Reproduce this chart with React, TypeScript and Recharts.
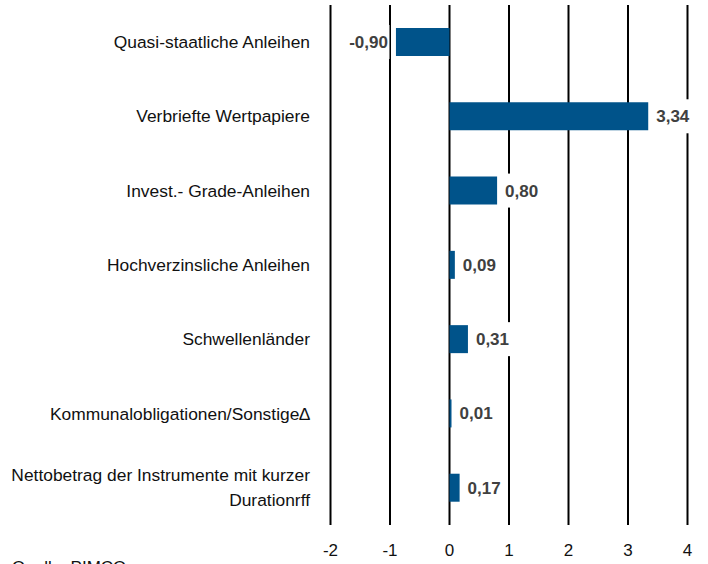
import React from "react";
import { BarChart, Bar, XAxis, YAxis, CartesianGrid, LabelList } from "recharts";

const categories = [
  "Quasi-staatliche Anleihen",
  "Verbriefte Wertpapiere",
  "Invest.- Grade-Anleihen",
  "Hochverzinsliche Anleihen",
  "Schwellenländer",
  "Kommunalobligationen/Sonstige∆",
  "Nettobetrag der Instrumente mit kurzer\nDurationrff",
];
const values = [-0.9, 3.34, 0.8, 0.09, 0.31, 0.01, 0.17];
const xTicks = [-2, -1, 0, 1, 2, 3, 4];
const sourceText = "Quelle: PIMCO";

const data = categories.map((name, i) => ({ name, value: values[i] }));

const FONT = "'Liberation Sans', Arial, sans-serif";
const BAR_COLOR = "#00538A";

const fmt = (v: number) => v.toFixed(2).replace(".", ",");

const charW: Record<string, number> = { "-": 0.333, ",": 0.278 };
const textWidth = (s: string, size: number) =>
  s.split("").reduce((acc, c) => acc + (charW[c] ?? 0.556) * size, 0);

const ValueLabel = (props: any) => {
  const { x, y, width, height, value } = props;
  const left = Math.min(x, x + width);
  const right = Math.max(x, x + width);
  const cy = y + height / 2;
  const s = fmt(value);
  const fs = 17;
  const w = textWidth(s, fs);
  const neg = value < 0;
  const tx = neg ? left - 8 - w : right + 8;
  return (
    <g>
      <rect x={tx - 1.5} y={cy - 17} width={w + 3} height={34} fill="#fff" />
      <text
        x={tx}
        y={cy}
        dy={6}
        fontFamily={FONT}
        fontSize={fs}
        fontWeight="bold"
        fill="#404040"
      >
        {s}
      </text>
    </g>
  );
};

const CategoryTick = (props: any) => {
  const { x, y, payload } = props;
  const lines = String(payload.value).split("\n");
  const lh = 25;
  const start = -((lines.length - 1) * lh) / 2;
  return (
    <g>
      {lines.map((ln, i) => (
        <text
          key={i}
          x={x}
          y={y + start + i * lh}
          dy={6}
          textAnchor="end"
          fontFamily={FONT}
          fontSize={17.4}
          fill="#111"
        >
          {ln}
        </text>
      ))}
    </g>
  );
};

const NumTick = (props: any) => {
  const { x, y, payload } = props;
  return (
    <text
      x={x}
      y={y}
      dy={31}
      textAnchor="middle"
      fontFamily={FONT}
      fontSize={17}
      fill="#111"
    >
      {payload.value}
    </text>
  );
};

export default function App() {
  return (
    <div
      style={{
        position: "absolute",
        left: 0,
        top: 0,
        width: 708,
        height: 564,
        overflow: "hidden",
        background: "#fff",
      }}
    >
      <BarChart
        width={708}
        height={564}
        data={data}
        layout="vertical"
        margin={{ top: 5, right: 20.5, bottom: 0, left: 0 }}
        barCategoryGap={0}
      >
        <CartesianGrid
          horizontal={false}
          vertical={true}
          stroke="#000"
          strokeWidth={2}
        />
        <XAxis
          type="number"
          domain={[-2, 4]}
          ticks={xTicks}
          axisLine={false}
          tickLine={false}
          tickSize={0}
          tickMargin={0}
          height={39}
          tick={<NumTick />}
          interval={0}
        />
        <YAxis
          type="category"
          dataKey="name"
          width={330.5}
          axisLine={false}
          tickLine={false}
          tickSize={0}
          tickMargin={20.5}
          tick={<CategoryTick />}
          interval={0}
        />
        <Bar
          dataKey="value"
          fill={BAR_COLOR}
          barSize={28}
          minPointSize={2}
          isAnimationActive={false}
        >
          <LabelList dataKey="value" content={<ValueLabel />} />
        </Bar>
      </BarChart>
      <div
        style={{
          position: "absolute",
          left: 12,
          top: 558,
          fontFamily: FONT,
          fontSize: 17,
          color: "#111",
          whiteSpace: "nowrap",
        }}
      >
        {sourceText}
      </div>
    </div>
  );
}
